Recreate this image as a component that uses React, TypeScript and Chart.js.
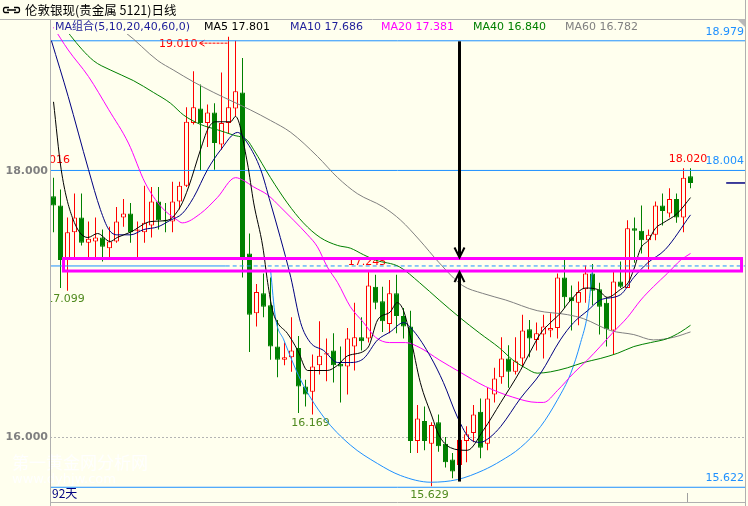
import React, { useEffect, useRef } from "react";
import { Chart, registerables } from "chart.js";

Chart.register(...registerables);

// ---------------- data ----------------
const title = "伦敦银现(贵金属 5121)日线";
const legendHead = "MA组合(5,10,20,40,60,0)";
const maNames = ["MA5", "MA10", "MA20", "MA40", "MA60"];
const maLast = ["17.801", "17.686", "17.381", "16.840", "16.782"];
const dayCountLabel = "92天";
const watermark1 = "第一黄金网分析网";
const watermark2 = "www.dyhjw.com";
const yTicks = [16, 18];

const opens = [17.81, 17.74, 17.33, 17.54, 17.65, 17.46, 17.47, 17.50, 17.42, 17.47,
  17.65, 17.68, 17.55, 17.54, 17.59, 17.77, 17.63, 17.62, 17.77, 17.89,
  18.36, 18.47, 18.36, 18.44, 18.20, 18.36, 18.47, 18.59, 17.38, 16.93,
  17.08, 16.99, 16.68, 16.58, 16.60, 16.67, 16.38, 16.34, 16.54, 16.62,
  16.65, 16.55, 16.53, 16.68, 16.75, 16.74, 17.13, 17.02, 16.85, 17.08,
  16.91, 16.83, 15.97, 16.12, 15.95, 16.11, 15.95, 15.83, 15.79, 15.97,
  16.03, 16.19, 15.95, 16.32, 16.45, 16.59, 16.49, 16.59, 16.81, 16.73,
  16.77, 16.80, 16.82, 17.20, 17.05, 17.01, 17.11, 17.23, 17.11, 17.01,
  16.80, 17.17, 17.12, 17.57, 17.55, 17.48, 17.52, 17.74, 17.68, 17.79,
  17.65, 17.96];
const highs = [17.95, 17.86, 17.65, 17.83, 17.83, 17.62, 17.65, 17.56, 17.58, 17.73,
  17.79, 17.76, 17.62, 17.89, 17.88, 17.88, 17.76, 17.92, 17.92, 18.48,
  18.75, 18.65, 18.50, 18.51, 18.74, 19.01, 18.98, 18.85, 17.53, 17.15,
  17.23, 17.20, 16.88, 16.71, 16.90, 16.76, 16.43, 16.62, 16.87, 16.74,
  16.78, 16.68, 16.82, 17.01, 16.90, 17.245, 17.22, 17.13, 17.18, 17.22,
  16.97, 16.95, 16.24, 16.23, 16.11, 16.17, 16.00, 15.88, 16.02, 16.08,
  16.24, 16.29, 16.37, 16.52, 16.75, 16.69, 16.75, 16.92, 16.88, 16.86,
  16.92, 16.93, 17.23, 17.34, 17.14, 17.17, 17.29, 17.30, 17.16, 17.05,
  17.24, 17.32, 17.63, 17.65, 17.74, 17.56, 17.77, 17.83, 17.87, 17.83,
  18.02, 18.02];
const lows = [17.54, 17.12, 17.099, 17.33, 17.44, 17.35, 17.35, 17.32, 17.35, 17.46,
  17.58, 17.46, 17.33, 17.46, 17.50, 17.56, 17.54, 17.54, 17.71, 17.88,
  18.35, 18.00, 18.18, 18.01, 18.16, 18.28, 18.41, 17.20, 16.64, 16.83,
  16.90, 16.58, 16.45, 16.54, 16.49, 16.18, 16.23, 16.169, 16.47, 16.42,
  16.41, 16.26, 16.32, 16.50, 16.65, 16.71, 16.96, 16.79, 16.78, 16.78,
  16.74, 15.88, 15.88, 15.90, 15.629, 15.89, 15.77, 15.69, 15.77, 15.81,
  15.96, 15.84, 15.90, 16.26, 16.40, 16.37, 16.47, 16.53, 16.60, 16.65,
  16.59, 16.75, 16.74, 16.97, 16.80, 16.84, 17.01, 16.99, 16.77, 16.68,
  16.62, 17.12, 17.12, 17.31, 17.38, 17.26, 17.48, 17.59, 17.65, 17.61,
  17.54, 17.87];
const closes = [17.74, 17.33, 17.54, 17.65, 17.46, 17.49, 17.50, 17.43, 17.47, 17.62,
  17.68, 17.54, 17.56, 17.61, 17.77, 17.63, 17.62, 17.77, 17.89, 18.37,
  18.48, 18.36, 18.44, 18.21, 18.36, 18.48, 18.60, 17.33, 16.92, 17.09,
  16.98, 16.68, 16.58, 16.60, 16.65, 16.38, 16.32, 16.53, 16.61, 16.63,
  16.54, 16.53, 16.74, 16.75, 16.72, 17.14, 17.01, 16.87, 17.08, 16.91,
  16.83, 15.97, 16.14, 15.97, 16.09, 15.93, 15.81, 15.74, 15.98, 16.02,
  16.17, 15.92, 16.29, 16.44, 16.59, 16.49, 16.57, 16.80, 16.74, 16.78,
  16.83, 16.82, 17.20, 17.05, 17.02, 17.09, 17.23, 17.10, 16.98, 16.81,
  17.17, 17.13, 17.57, 17.55, 17.48, 17.52, 17.74, 17.70, 17.79, 17.65,
  17.95, 17.91];

// moving-average lines (candle index, price)
const ma5Idx = [0, 1.1, 2.7, 4.9, 6.3, 8.1, 9.1, 11, 13.9, 16.3, 18.1, 19.3, 21, 22.1, 23.1, 25.3, 26, 27.7, 28.6, 29.9, 30.6, 31.3, 32, 33.4, 34.9, 36.3, 37.1, 39.1, 40.6, 42, 44.9, 46.3, 48.1, 49.1, 50, 51, 52.4, 54.1, 55, 56.7, 59.1, 61.4, 63.9, 66.7, 68.1, 69.6, 71, 72.4, 73.9, 76, 77.7, 79.1, 81, 82.1, 82.9, 83.9, 85, 86, 87.1, 89.1, 91];
const ma5Val = [18.52, 18.01, 17.65, 17.50, 17.53, 17.47, 17.50, 17.54, 17.62, 17.63, 17.73, 17.88, 18.16, 18.32, 18.37, 18.37, 18.41, 18.06, 17.76, 17.43, 17.16, 16.95, 16.86, 16.78, 16.65, 16.50, 16.50, 16.50, 16.54, 16.61, 16.67, 16.88, 16.94, 17.01, 16.95, 16.75, 16.41, 16.15, 16.02, 15.92, 15.90, 16.05, 16.26, 16.50, 16.64, 16.78, 16.86, 16.93, 17.03, 17.12, 17.11, 17.05, 17.11, 17.16, 17.26, 17.42, 17.48, 17.57, 17.61, 17.68, 17.80];
const ma10Idx = [-0.3, 2.1, 5, 6.7, 7.9, 9.1, 11, 12.9, 14.9, 16.7, 18.4, 20, 22, 23.9, 26.3, 27.7, 29.6, 31, 32.4, 33.9, 35.3, 36.7, 38.6, 40.6, 42.4, 44.3, 46.3, 48.1, 50, 51.4, 53.9, 55.7, 57.7, 59.6, 61, 62.4, 63.9, 66.7, 69.6, 72.4, 74.3, 76.3, 78.1, 81, 82.9, 84.9, 87.4, 91];
const ma10Val = [18.98, 18.56, 18.01, 17.71, 17.56, 17.52, 17.52, 17.56, 17.58, 17.63, 17.68, 17.80, 18.01, 18.16, 18.29, 18.21, 18.01, 17.76, 17.50, 17.20, 16.86, 16.71, 16.65, 16.56, 16.56, 16.59, 16.73, 16.79, 16.86, 16.80, 16.60, 16.41, 16.15, 15.98, 15.96, 16.00, 16.08, 16.29, 16.48, 16.73, 16.86, 16.95, 17.03, 17.07, 17.20, 17.31, 17.41, 17.67];
const ma20Idx = [0, 2.1, 5, 7.9, 10.7, 13.1, 15.4, 17.7, 18.4, 21, 23.4, 26, 27.1, 28.6, 30.6, 32.4, 34.3, 36.3, 37.7, 39.1, 40.6, 42.4, 44.3, 46, 48, 50.3, 52.4, 55.1, 58, 61.7, 65.6, 69.1, 70, 72, 74.3, 76.3, 78.1, 80, 82, 83.9, 85.7, 87.7, 89.6, 91];
const ma20Val = [19.08, 18.91, 18.71, 18.46, 18.21, 17.91, 17.73, 17.63, 17.61, 17.68, 17.80, 17.95, 17.93, 17.88, 17.82, 17.73, 17.63, 17.52, 17.43, 17.28, 17.16, 16.98, 16.86, 16.75, 16.71, 16.71, 16.67, 16.58, 16.49, 16.38, 16.30, 16.26, 16.26, 16.35, 16.48, 16.58, 16.68, 16.79, 16.90, 17.03, 17.13, 17.23, 17.33, 17.38];
const ma40Idx = [0, 2.4, 5.7, 8.1, 11.4, 14.3, 16.7, 18.6, 21, 23.4, 25.7, 27.7, 28.6, 31, 33.4, 35.7, 38.1, 40.6, 42.4, 44.3, 46, 49.4, 52.3, 55.1, 58, 60.9, 63.7, 65.6, 67.4, 69.1, 71, 73.4, 75.7, 78.1, 80.6, 82.9, 85.3, 87.7, 89.6, 91];
const ma40Val = [19.20, 19.02, 18.83, 18.76, 18.68, 18.59, 18.51, 18.42, 18.35, 18.31, 18.27, 18.23, 18.16, 17.95, 17.76, 17.61, 17.50, 17.44, 17.42, 17.37, 17.33, 17.28, 17.16, 17.03, 16.90, 16.78, 16.67, 16.58, 16.52, 16.48, 16.49, 16.52, 16.56, 16.59, 16.63, 16.68, 16.71, 16.74, 16.79, 16.84];
const ma60Idx = [5, 10.3, 14.9, 17.1, 20, 22.9, 25.7, 28.1, 31, 33.9, 37.7, 40.6, 43.4, 47.1, 49.6, 52.3, 55.1, 58.4, 61.3, 64.6, 69.1, 73.4, 75.7, 79.6, 82.9, 85.7, 88.6, 91];
const ma60Val = [19.20, 19.04, 18.83, 18.76, 18.67, 18.59, 18.52, 18.46, 18.38, 18.29, 18.11, 17.95, 17.83, 17.73, 17.63, 17.48, 17.31, 17.14, 17.08, 17.03, 16.95, 16.92, 16.89, 16.80, 16.77, 16.73, 16.75, 16.79];

// rounding-bottom arc drawn on the chart
const arcIdx = [31, 31.7, 32.9, 35.3, 38.6, 42.4, 46.3, 49.6, 53.9, 57.7, 61.4, 63.9, 66.7, 69.6, 72, 73.9, 75.3, 76.3, 77];
const arcVal = [17.26, 16.90, 16.73, 16.43, 16.15, 15.94, 15.80, 15.71, 15.66, 15.68, 15.75, 15.82, 15.92, 16.08, 16.28, 16.48, 16.71, 16.93, 17.26];

// horizontal reference lines
const blueLevels = [18.979, 18.004, 15.622];
const neckLevel = 17.286;
const neckSolidEnd = 24.6;
const boxIdx = [1.43, 98.29];
const boxVal = [17.248, 17.342];
const arrowIdx = 58;
const arrowFrom = [18.975, 15.665];
const arrowTo = [17.35, 17.24];
const peakIdx = 25;
const markHighIdx = [45, 90];
const markLowIdx = [37, 54, 2];
const prevHigh = 18.016;
const prevHighIdx = -0.4;
const lastMarkIdx = 96.1;
const dateTickIdx = 90.5;

// ---------------- style ----------------
const X_MIN = -0.5;
const X_MAX = X_MIN + 695 / 7;
const Y_MIN = 16 - 65 / 133;
const Y_MAX = 18 + 152 / 133;
const BG = "#FFFFEE";
const UP = "#FF0000";
const DOWN = "#008000";
const BLUE = "#1E90FF";
const LOWC = "#4F8A1E";
const maColors = ["#000000", "#000080", "#FF00FF", "#008000", "#808080"];
const legendX = [204, 290, 381, 473, 565];
const F = '"DejaVu Sans", "Noto Sans CJK SC", sans-serif';

const pts = (xs: number[], ys: number[]) => xs.map((x, i) => ({ x, y: ys[i] }));

const decor = {
  id: "decor",
  beforeDraw(chart: any) {
    const { ctx, width, height } = chart;
    ctx.save();
    ctx.fillStyle = BG;
    ctx.fillRect(0, 0, width, height);
    ctx.restore();
  },
  beforeDatasetsDraw(chart: any) {
    const { ctx, chartArea: a, scales } = chart;
    const xs = scales.x, ys = scales.y;
    ctx.save();
    // dotted grid (skipped where a level line covers it)
    ctx.strokeStyle = "#B4B4B4";
    ctx.lineWidth = 1;
    ctx.setLineDash([2, 2]);
    yTicks
      .filter((t) => !blueLevels.some((v) => Math.abs(v - t) < 0.02))
      .forEach((t) => {
        const py = Math.round(ys.getPixelForValue(t)) + 0.5;
        ctx.beginPath();
        ctx.moveTo(a.left, py);
        ctx.lineTo(a.right, py);
        ctx.stroke();
      });
    ctx.setLineDash([]);
    // axis tick labels
    ctx.font = `bold 11px ${F}`;
    ctx.fillStyle = "#808080";
    ctx.textAlign = "right";
    ctx.textBaseline = "middle";
    yTicks.forEach((t) => ctx.fillText(t.toFixed(3), a.left - 2, ys.getPixelForValue(t)));
    // watermark
    ctx.fillStyle = "rgba(255,255,255,0.95)";
    ctx.textAlign = "left";
    ctx.font = '17px "Noto Sans CJK SC"';
    ctx.fillText(watermark1, 12, 463);
    ctx.font = `13px ${F}`;
    ctx.fillText(watermark2, 12, 480);

    ctx.beginPath();
    ctx.rect(a.left, a.top, a.right - a.left, a.bottom - a.top);
    ctx.clip();
    ctx.font = `11px ${F}`;
    // peak label with arrow
    const px = xs.getPixelForValue(peakIdx);
    const py = ys.getPixelForValue(highs[peakIdx]) + 7;
    ctx.fillStyle = UP;
    ctx.textAlign = "right";
    ctx.fillText(highs[peakIdx].toFixed(3), px - 31, py);
    ctx.strokeStyle = UP;
    ctx.lineWidth = 1;
    ctx.setLineDash([3, 1]);
    ctx.beginPath();
    ctx.moveTo(px - 28, py - 0.5);
    ctx.lineTo(px - 1, py - 0.5);
    ctx.stroke();
    ctx.setLineDash([]);
    ctx.beginPath();
    ctx.moveTo(px - 24, py - 3.5);
    ctx.lineTo(px - 29, py - 0.5);
    ctx.lineTo(px - 24, py + 2.5);
    ctx.stroke();
    // high / low marks
    ctx.textAlign = "center";
    markHighIdx.forEach((i, k) => {
      ctx.fillStyle = UP;
      ctx.fillText(highs[i].toFixed(3), xs.getPixelForValue(i) + (k === 1 ? 4.5 : -1.5), ys.getPixelForValue(highs[i]) - 9);
    });
    ctx.fillText(prevHigh.toFixed(3), xs.getPixelForValue(prevHighIdx), ys.getPixelForValue(prevHigh) - 9);
    markLowIdx.forEach((i) => {
      ctx.fillStyle = LOWC;
      ctx.fillText(lows[i].toFixed(3), xs.getPixelForValue(i) - 2, ys.getPixelForValue(lows[i]) + 8.5);
    });
    ctx.restore();
  },
  afterDatasetsDraw(chart: any) {
    const { ctx, chartArea: a, scales, width, height } = chart;
    const xs = scales.x, ys = scales.y;
    ctx.save();
    // magenta box
    ctx.strokeStyle = "#FF00FF";
    ctx.lineWidth = 3;
    const bx1 = xs.getPixelForValue(boxIdx[0]);
    const bx2 = xs.getPixelForValue(boxIdx[1]);
    const by1 = ys.getPixelForValue(boxVal[1]);
    const by2 = ys.getPixelForValue(boxVal[0]);
    ctx.strokeRect(bx1, by1, bx2 - bx1, by2 - by1);
    // arrows
    const ax = xs.getPixelForValue(arrowIdx);
    ctx.strokeStyle = "#000000";
    arrowFrom.forEach((f, k) => {
      const y0 = ys.getPixelForValue(f);
      const y1 = ys.getPixelForValue(arrowTo[k]);
      const dir = y1 > y0 ? 1 : -1;
      ctx.lineWidth = 3;
      ctx.beginPath();
      ctx.moveTo(ax, y0);
      ctx.lineTo(ax, y1 - dir * 1);
      ctx.stroke();
      ctx.lineWidth = 2;
      ctx.beginPath();
      ctx.moveTo(ax - 5, y1 - dir * 10);
      ctx.lineTo(ax, y1);
      ctx.lineTo(ax + 5, y1 - dir * 10);
      ctx.stroke();
    });
    // right-side level labels
    ctx.font = `11px ${F}`;
    ctx.fillStyle = BLUE;
    ctx.textAlign = "right";
    ctx.textBaseline = "middle";
    blueLevels.forEach((v) => ctx.fillText(v.toFixed(3), 744, ys.getPixelForValue(v) - 9));
    // last close marker
    ctx.strokeStyle = "#000080";
    ctx.lineWidth = 1.5;
    const lc = ys.getPixelForValue(closes[closes.length - 1]);
    ctx.beginPath();
    ctx.moveTo(xs.getPixelForValue(lastMarkIdx), lc);
    ctx.lineTo(a.right, lc);
    ctx.stroke();
    // date tick
    ctx.strokeStyle = "#A0A0A0";
    ctx.lineWidth = 1;
    const dx = Math.round(xs.getPixelForValue(dateTickIdx)) + 0.5;
    ctx.beginPath();
    ctx.moveTo(dx, a.bottom - 9);
    ctx.lineTo(dx, a.bottom);
    ctx.stroke();
    // day count
    ctx.fillStyle = "#000080";
    ctx.textAlign = "left";
    ctx.font = '12px "Noto Sans CJK SC"';
    ctx.fillText(dayCountLabel, a.left + 2, 493);
    // header band
    ctx.fillStyle = BG;
    ctx.fillRect(0, 0, width, a.top);
    ctx.font = '12.5px "Noto Sans CJK SC"';
    ctx.fillStyle = "#000000";
    ctx.fillText(title, 25, 10);
    // link icon
    ctx.strokeStyle = "#000000";
    ctx.lineWidth = 1.3;
    ctx.beginPath();
    ctx.moveTo(9, 7.5); ctx.lineTo(5, 7.5); ctx.quadraticCurveTo(3.5, 7.5, 3.5, 10); ctx.quadraticCurveTo(3.5, 12.5, 5, 12.5); ctx.lineTo(9, 12.5);
    ctx.moveTo(14, 7.5); ctx.lineTo(18, 7.5); ctx.quadraticCurveTo(19.5, 7.5, 19.5, 10); ctx.quadraticCurveTo(19.5, 12.5, 18, 12.5); ctx.lineTo(14, 12.5);
    ctx.moveTo(7, 10); ctx.lineTo(16, 10);
    ctx.stroke();
    // legend row
    ctx.font = `11px ${F}`;
    const legendItems = [{ t: legendHead, x: 55, c: "#1E1E9A" }].concat(
      maNames.map((n, k) => ({ t: `${n} ${maLast[k]}`, x: legendX[k], c: k === 1 ? "#1E1E9A" : maColors[k] }))
    );
    legendItems.forEach((it) => {
      const w = ctx.measureText(it.t).width;
      ctx.fillStyle = BG;
      ctx.fillRect(it.x - 1, a.top + 1, w + 2, 14);
      ctx.fillStyle = it.c;
      ctx.fillText(it.t, it.x, 27);
    });
    // frame
    ctx.strokeStyle = "#B0B0B0";
    ctx.lineWidth = 1;
    ctx.beginPath();
    ctx.moveTo(0, a.top + 0.5); ctx.lineTo(a.right, a.top + 0.5);
    ctx.moveTo(a.left + 0.5, a.top); ctx.lineTo(a.left + 0.5, height);
    ctx.moveTo(a.left, a.bottom + 0.5); ctx.lineTo(a.right, a.bottom + 0.5);
    ctx.moveTo(a.right + 0.5, 0); ctx.lineTo(a.right + 0.5, height);
    ctx.stroke();
    ctx.fillStyle = "#B8B8B8";
    ctx.beginPath();
    ctx.moveTo(a.right - 8, a.top);
    ctx.lineTo(a.right, a.top);
    ctx.lineTo(a.right, a.top + 8);
    ctx.closePath();
    ctx.fill();
    ctx.restore();
  },
};

export default function App() {
  const ref = useRef<HTMLCanvasElement>(null);
  useEffect(() => {
    const canvas = ref.current;
    if (!canvas) return;
    const up = opens.map((o, i) => closes[i] >= o);
    const wickData = highs.map((h, i) => ({ x: i, y: [lows[i], h] }));
    const bodyData = opens.map((o, i) => ({ x: i, y: [Math.min(o, closes[i]), Math.max(o, closes[i])] }));
    const candleColor = up.map((u) => (u ? UP : DOWN));
    const line = (data: any[], color: string, order: number, extra: any = {}) => ({
      type: "line",
      data,
      borderColor: color,
      borderWidth: 1,
      pointRadius: 0,
      fill: false,
      cubicInterpolationMode: "monotone",
      order,
      ...extra,
    });
    const ds: any[] = [
      line(pts(ma5Idx, ma5Val), maColors[0], 1),
      line(pts(ma10Idx, ma10Val), maColors[1], 2),
      line(pts(ma20Idx, ma20Val), maColors[2], 3),
      line(pts(ma40Idx, ma40Val), maColors[3], 4),
      line(pts(ma60Idx, ma60Val), maColors[4], 5),
      line(pts(arcIdx, arcVal), BLUE, 6),
      ...blueLevels.map((v) => line([{ x: X_MIN, y: v }, { x: X_MAX, y: v }], BLUE, 7)),
      line([{ x: X_MIN, y: neckLevel }, { x: neckSolidEnd, y: neckLevel }], BLUE, 7),
      line([{ x: neckSolidEnd, y: neckLevel }, { x: X_MAX, y: neckLevel }], BLUE, 7, { borderDash: [4, 3] }),
      {
        type: "bar",
        data: bodyData,
        backgroundColor: up.map((u) => (u ? BG : DOWN)),
        borderColor: candleColor,
        borderWidth: 1,
        borderSkipped: false,
        barThickness: 5,
        grouped: false,
        minBarLength: 1,
        inflateAmount: 0,
        order: 10,
      },
      {
        type: "bar",
        data: wickData,
        backgroundColor: candleColor,
        borderWidth: 0,
        barThickness: 1,
        grouped: false,
        minBarLength: 1,
        inflateAmount: 0,
        order: 11,
      },
    ];
    const chart = new Chart(canvas, {
      type: "bar",
      data: { datasets: ds },
      options: {
        animation: false,
        responsive: false,
        devicePixelRatio: 1,
        events: [],
        layout: { padding: { left: 50, top: 19, right: 3, bottom: 4 } },
        plugins: { legend: { display: false }, tooltip: { enabled: false } },
        scales: {
          x: { type: "linear", min: X_MIN, max: X_MAX, display: false, offset: false },
          y: { type: "linear", min: Y_MIN, max: Y_MAX, display: false },
        },
      } as any,
      plugins: [decor as any],
    });
    return () => chart.destroy();
  }, []);
  return (
    <div style={{ position: "fixed", left: 0, top: 0, width: 748, height: 506, background: BG }}>
      <canvas ref={ref} width={748} height={506} style={{ display: "block" }} />
    </div>
  );
}
